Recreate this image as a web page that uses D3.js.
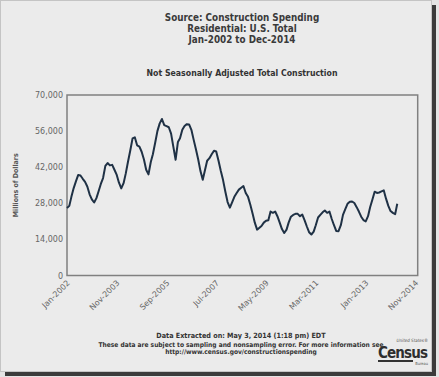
<!DOCTYPE html>
<html>
<head>
<meta charset="utf-8">
<script src="https://cdn.jsdelivr.net/npm/d3@7"></script>
<style>
	body { margin: 0; background: #e4e4e4; }
	svg { display: block; }
	text { font-family: "DejaVu Sans Condensed", "DejaVu Sans", sans-serif; }
</style>
</head>
<body>
<div id="chartDiv"></div>
<script>
// monthly residential spending, not seasonally adjusted (millions of dollars)
const startMonth = "Jan-2002";
const values2002 = [26200, 27000, 30500, 33900, 36500, 39000, 38800, 37500, 36300, 34500, 31500, 29500];
const values2003 = [28300, 30000, 32600, 35500, 37800, 42500, 43600, 42700, 42900, 41000, 39000, 36000];
const values2004 = [33800, 35800, 39500, 44200, 48500, 53200, 53600, 50500, 50000, 48000, 45000, 41000];
const values2005 = [39200, 44000, 47000, 51500, 56000, 59000, 60700, 58300, 57900, 57500, 55000, 50000];
const values2006 = [44900, 51800, 53200, 56500, 58000, 58700, 58600, 56500, 52600, 49000, 45000, 40500];
const values2007 = [37100, 41000, 44500, 45500, 47000, 48400, 48100, 44500, 40500, 37000, 32500, 28500];
const values2008 = [26300, 28500, 30500, 32000, 33300, 34000, 34700, 32000, 30500, 27500, 24000, 20500];
const values2009 = [17800, 18500, 19200, 20500, 21200, 21400, 24800, 24300, 24800, 23000, 20500, 18000];
const values2010 = [16500, 17800, 20500, 22800, 23500, 23900, 23900, 23000, 23600, 21500, 19000, 16800];
const values2011 = [15900, 17000, 19500, 22500, 23500, 24500, 25200, 24300, 24800, 22000, 19500, 17300];
const values2012 = [17200, 19500, 23500, 25700, 27800, 28600, 28700, 28100, 26500, 24800, 22800, 21500];
const values2013 = [21000, 23000, 26500, 29500, 32500, 32000, 32200, 32600, 33000, 29800, 27000, 25000];
const values2014 = [24300, 23800, 27800];

const xTickLabels = ["Jan-2002", "Nov-2003", "Sep-2005", "Jul-2007", "May-2009", "Mar-2011", "Jan-2013", "Nov-2014"];
const xDomainLabels = ["Jan-2002", "Dec-2014"];
const yTickValues = [0, 14000, 28000, 42000, 56000, 70000];

const titleLines = ["Source: Construction Spending", "Residential: U.S. Total", "Jan-2002 to Dec-2014"];
const subTitle = "Not Seasonally Adjusted Total Construction";
const yTitle = "Millions of Dollars";
const footerLines = [
	"Data Extracted on: May 3, 2014 (1:18 pm) EDT",
	"These data are subject to sampling and nonsampling error. For more information see",
	"http://www.census.gov/constructionspending"
];

const width = 439,
	height = 377;

const margin = {
	top: 95,
	right: 21.3,
	bottom: 101.5,
	left: 67
};

const parseMonth = d3.timeParse("%b-%Y"),
	fmtMonth = d3.timeFormat("%b-%Y");

let allValues = [].concat(values2002, values2003, values2004, values2005, values2006, values2007,
	values2008, values2009, values2010, values2011, values2012, values2013, values2014);

let lineData = allValues.map((v, i) => ({
	date: d3.timeMonth.offset(parseMonth(startMonth), i),
	value: v
}));

let svg = d3.select("#chartDiv").append("svg")
	.attr("width", width)
	.attr("height", height);

// picture frame with drop shadow
svg.append("rect")
	.attr("x", 5).attr("y", 5)
	.attr("width", 431).attr("height", 371)
	.attr("fill", "#3b3b3b");
svg.append("rect")
	.attr("x", 0.5).attr("y", 0.5)
	.attr("width", 431).attr("height", 371)
	.attr("fill", "#ebebeb")
	.attr("stroke", "#c4c4c4");

let innerW = width - margin.left - margin.right,
	innerH = height - margin.top - margin.bottom;

let xScale = d3.scaleTime()
	.domain(xDomainLabels.map(parseMonth))
	.range([0, innerW]);

let yScale = d3.scaleLinear()
	.domain([0, d3.max(yTickValues)])
	.range([innerH, 0]);

let g = svg.append("g")
	.attr("transform", `translate(${margin.left},${margin.top})`);

// titles
svg.append("g").selectAll("text")
	.data(titleLines)
	.join("text")
	.attr("x", 242)
	.attr("y", (d, i) => 20.5 + i * 11)
	.attr("text-anchor", "middle")
	.attr("font-size", 9.8)
	.attr("font-weight", "bold")
	.attr("fill", "#3a3a3a")
	.text(d => d);

svg.append("text")
	.attr("x", 242)
	.attr("y", 76)
	.attr("text-anchor", "middle")
	.attr("font-size", 8.7)
	.attr("font-weight", "bold")
	.attr("fill", "#333")
	.text(subTitle);

// y axis
let yAxis = g.append("g")
	.attr("class", "yAxis")
	.call(d3.axisLeft(yScale).tickValues(yTickValues).tickFormat(d3.format(",")).tickSize(0).tickPadding(4));
yAxis.select(".domain").remove();
yAxis.selectAll("text")
	.attr("font-size", 8)
	.attr("fill", "#666")
	.style("font-family", "'DejaVu Sans', sans-serif");

svg.append("text")
	.attr("transform", `translate(18,${margin.top + innerH / 2}) rotate(-90)`)
	.attr("text-anchor", "middle")
	.attr("font-size", 7)
	.attr("font-weight", "bold")
	.attr("fill", "#555")
	.text(yTitle);

// x axis
let xAxis = g.append("g")
	.attr("class", "xAxis")
	.attr("transform", `translate(0,${innerH})`)
	.call(d3.axisBottom(xScale).tickValues(xTickLabels.map(parseMonth)).tickFormat(fmtMonth).tickSize(0).tickPadding(6));
xAxis.select(".domain").remove();
xAxis.selectAll("text")
	.attr("font-size", 8)
	.attr("fill", "#666")
	.style("font-family", "'DejaVu Sans', sans-serif")
	.attr("text-anchor", "end")
	.attr("dy", "0.3em")
	.attr("transform", "translate(-3,2) rotate(-45)");

// plot frame
g.append("rect")
	.attr("width", innerW)
	.attr("height", innerH)
	.attr("fill", "none")
	.attr("stroke", "#808080")
	.attr("stroke-width", 1.5);

// the line
let lineFn = d3.line()
	.x(d => xScale(d.date))
	.y(d => yScale(d.value));

g.append("path")
	.datum(lineData)
	.attr("d", lineFn)
	.attr("fill", "none")
	.attr("stroke", "#1f3145")
	.attr("stroke-width", 2)
	.attr("stroke-linejoin", "round");

// footer
svg.append("g").selectAll("text")
	.data(footerLines)
	.join("text")
	.attr("x", 241)
	.attr("y", (d, i) => [338, 346.5, 353.5][i])
	.attr("text-anchor", "middle")
	.attr("font-size", (d, i) => i == 0 ? 7.2 : 6.6)
	.attr("font-weight", "bold")
	.attr("fill", "#333")
	.text(d => d);

// census logo
let logo = svg.append("g").attr("transform", "translate(378,0)");
logo.append("text")
	.attr("x", 50).attr("y", 341.5)
	.attr("text-anchor", "end")
	.attr("font-size", 4.5)
	.attr("font-style", "italic")
	.attr("fill", "#555")
	.text("United States\u00ae");
logo.append("text")
	.attr("x", 50).attr("y", 358)
	.attr("text-anchor", "end")
	.attr("font-size", 15)
	.attr("font-weight", "bold")
	.attr("fill", "#2e2e2e")
	.attr("textLength", 50)
	.text("Census");
logo.append("rect")
	.attr("x", 0).attr("y", 360)
	.attr("width", 35).attr("height", 2)
	.attr("fill", "#333");
logo.append("text")
	.attr("x", 50).attr("y", 364.5)
	.attr("text-anchor", "end")
	.attr("font-size", 4)
	.attr("fill", "#555")
	.text("Bureau");
</script>
</body>
</html>
